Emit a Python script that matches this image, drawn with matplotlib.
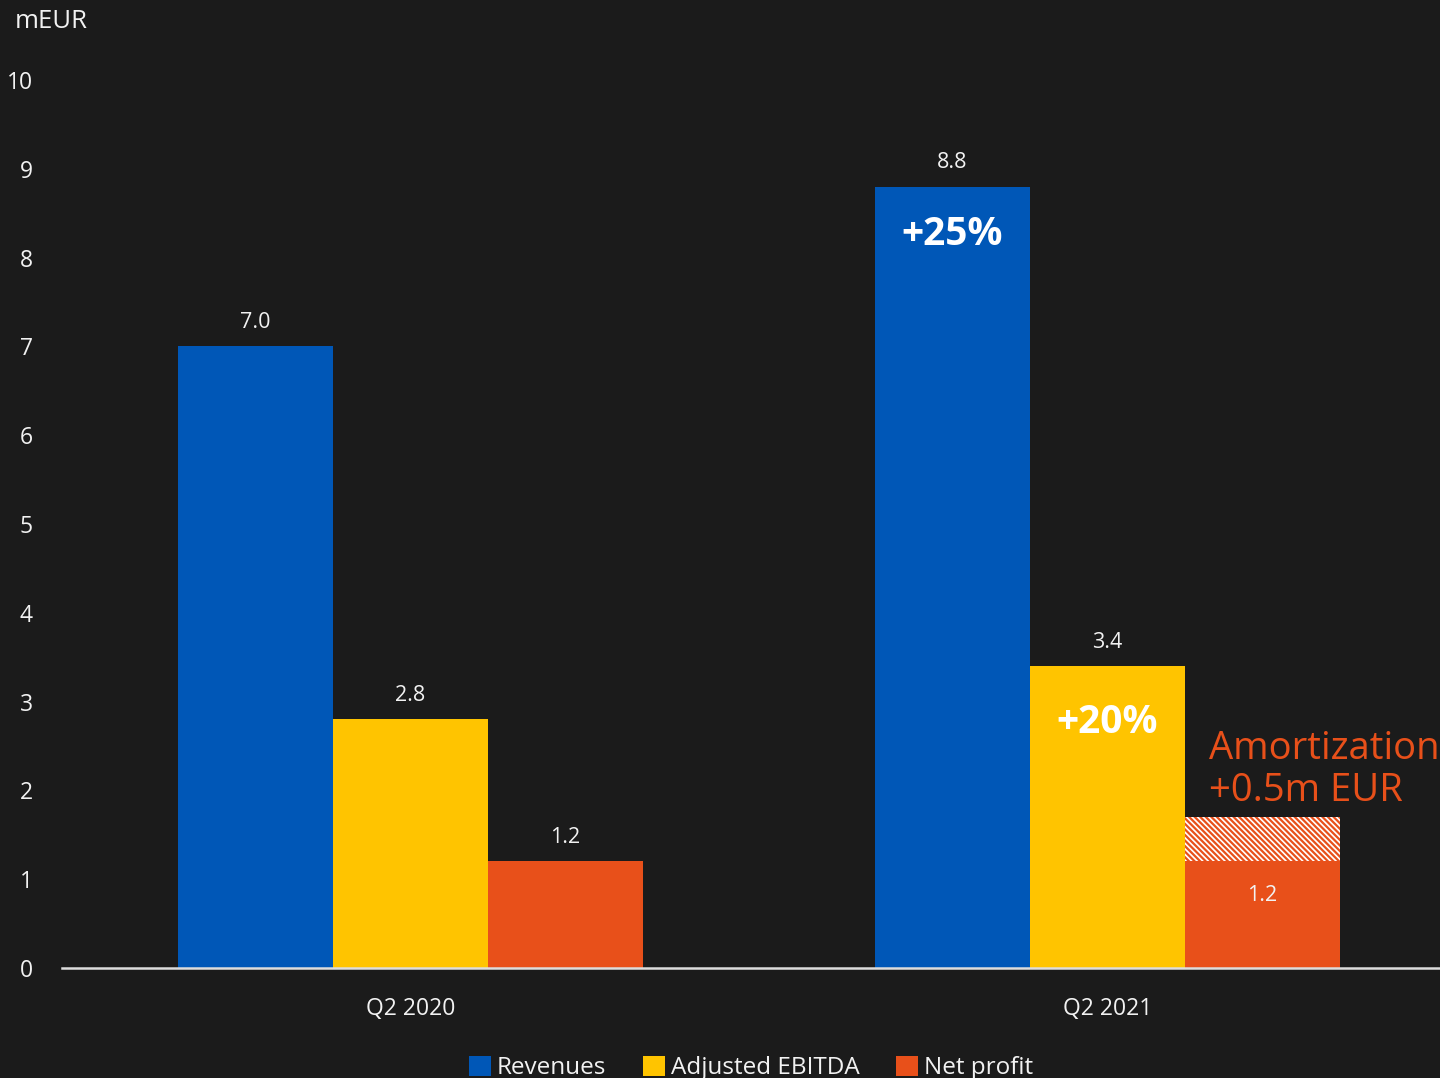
import matplotlib
matplotlib.use("Agg")
import matplotlib.pyplot as plt
import numpy as np

plt.rcParams['font.family'] = ['Open Sans', 'DejaVu Sans']
plt.rcParams['hatch.linewidth'] = 1.6

# Data
periods = ["Q2 2020", "Q2 2021"]
series = ["Revenues", "Adjusted EBITDA", "Net profit"]
revenues = [7.0, 8.8]
adj_ebitda = [2.8, 3.4]
net_profit = [1.2, 1.2]
amortization = 0.5
growth_labels = {"Revenues": "+25%", "Adjusted EBITDA": "+20%"}
y_ticks = [0, 1, 2, 3, 4, 5, 6, 7, 8, 9, 10]

BG = "#1b1b1b"
BLUE = "#0057b7"
YELLOW = "#ffc400"
ORANGE = "#e8501a"
TXT = "#f2f2f2"

fig = plt.figure(figsize=(14.4, 10.78), dpi=100, facecolor=BG)
ax = fig.add_axes([62 / 1440, 110 / 1078, 1 - 62 / 1440, 888 / 1078])
ax.set_facecolor(BG)

x = np.arange(len(periods))
w = 0.2224
vals = [revenues, adj_ebitda, net_profit]
cols = [BLUE, YELLOW, ORANGE]
offsets = [-w, 0, w]

for name, v, c, o in zip(series, vals, cols, offsets):
    ax.bar(x + o, v, width=w, color=c, label=name, linewidth=0, zorder=2)

# Amortization effect stacked on the latest net profit bar
ax.bar(x[1] + w, amortization, bottom=net_profit[1], width=w,
       facecolor="white", edgecolor=ORANGE, hatch="\\\\\\\\\\\\", linewidth=0, zorder=2)

# Value labels above bars
for i in range(len(periods)):
    ax.text(x[i] - w, revenues[i] + 0.27, f"{revenues[i]:.1f}", ha="center", va="center",
            color=TXT, fontsize=15.5)
    ax.text(x[i], adj_ebitda[i] + 0.27, f"{adj_ebitda[i]:.1f}", ha="center", va="center",
            color=TXT, fontsize=15.5)
ax.text(x[0] + w, net_profit[0] + 0.27, f"{net_profit[0]:.1f}", ha="center", va="center",
        color=TXT, fontsize=15.5)
ax.text(x[1] + w, net_profit[1] - 0.38, f"{net_profit[1]:.1f}", ha="center", va="center",
        color=TXT, fontsize=15.5)

# Growth labels inside bars
ax.text(x[1] - w, revenues[1] - 0.54, growth_labels["Revenues"], ha="center", va="center",
        color="white", fontsize=28, fontweight="bold")
ax.text(x[1], adj_ebitda[1] - 0.63, growth_labels["Adjusted EBITDA"], ha="center", va="center",
        color="white", fontsize=28, fontweight="bold")

ax.text(x[1] + w * 0.5 + 0.035, 2.47, "Amortization", ha="left", va="center",
        color=ORANGE, fontsize=27.5, clip_on=False)
ax.text(x[1] + w * 0.5 + 0.035, 1.99, f"+{amortization}m EUR", ha="left", va="center",
        color=ORANGE, fontsize=27.5, clip_on=False)

ax.set_xlim(-0.5, 1.477)
ax.set_ylim(0, 10)
ax.set_yticks(y_ticks)
ax.set_yticklabels([str(t) for t in y_ticks])
ax.set_xticks(x)
ax.set_xticklabels(periods)
ax.tick_params(axis="both", length=0, colors=TXT, labelsize=16.5)
ax.tick_params(axis="y", pad=21)
ax.tick_params(axis="x", pad=21)

for s in ["top", "right", "left"]:
    ax.spines[s].set_visible(False)
ax.spines["bottom"].set_color("#dddddd")
ax.spines["bottom"].set_linewidth(1.8)
ax.spines["bottom"].set_zorder(3)

fig.text(15 / 1440, 1 - 22 / 1078, "mEUR", ha="left", va="center", color=TXT, fontsize=18.5)

ax.legend(loc="center", bbox_to_anchor=(0.5, -0.1125), ncol=3, frameon=False,
          fontsize=17.5, handlelength=0.9, handleheight=0.9, handletextpad=0.25,
          columnspacing=1.5, labelcolor=TXT)

fig.savefig("out.png", dpi=100, facecolor=BG)
